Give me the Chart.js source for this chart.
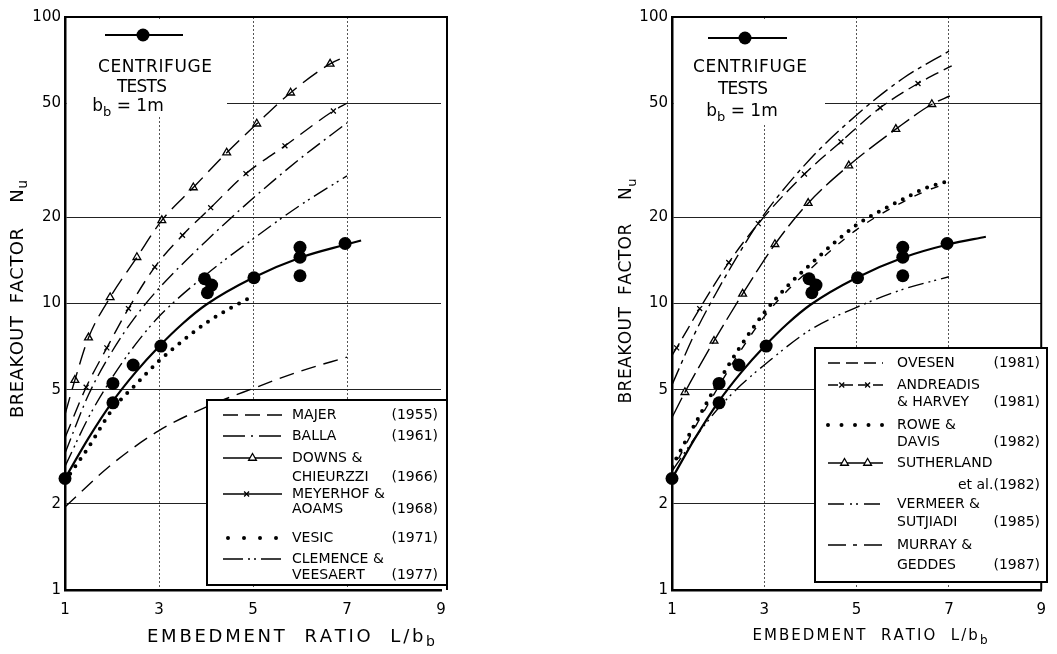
<!DOCTYPE html>
<html>
<head>
<meta charset="utf-8">
<script src="https://cdn.jsdelivr.net/npm/chart.js@4.4.0/dist/chart.umd.min.js"></script>
<style>
  html, body { margin: 0; padding: 0; background: #fff; }
  #wrap { position: relative; width: 1057px; height: 654px; }
  .panel { position: absolute; top: 0; height: 654px; }
  #left { left: 0; width: 528px; }
  #right { left: 528px; width: 529px; }
</style>
</head>
<body>
<div id="wrap">
  <div class="panel" id="left"><canvas id="leftChart" width="528" height="654"></canvas></div>
  <div class="panel" id="right"><canvas id="rightChart" width="529" height="654"></canvas></div>
</div>
<script>
// axes
const xTicks = [1, 3, 5, 7, 9];
const yTicks = [1, 2, 5, 10, 20, 50, 100];

// centrifuge tests, bb = 1m (same on both panels)
const testX = [1.0, 2.02, 2.02, 2.45, 3.04, 3.97, 4.12, 4.03, 5.02, 6.0, 6.0, 6.0, 6.96];
const testY = [2.45, 4.5, 5.26, 6.1, 7.1, 12.2, 11.6, 10.9, 12.3, 15.7, 14.5, 12.5, 16.2];
const fitX = [1, 1.5, 2, 2.5, 3, 3.5, 4, 5, 6, 7, 7.3];
const fitY = [2.45, 3.39, 4.52, 5.75, 7.08, 8.5, 9.9, 12.3, 14.45, 16.1, 16.6];
const fitRightX = [1, 1.5, 2, 2.5, 3, 3.5, 4, 5, 6, 7, 7.8];
const fitRightY = [2.45, 3.39, 4.52, 5.75, 7.08, 8.5, 9.9, 12.3, 14.45, 16.1, 17.1];

// left panel
const majerX = [1, 2, 3, 4, 5, 6, 7];
const majerY = [1.95, 2.75, 3.6, 4.35, 5.05, 5.8, 6.5];
const ballaX = [1, 1.5, 2, 2.5, 3, 4, 5, 6, 7];
const ballaY = [3.0, 4.8, 6.8, 9.0, 11.3, 16.5, 23.3, 32, 42.7];
const downsX = [1, 1.21, 1.5, 1.96, 2.53, 3.06, 3.73, 4.44, 5.08, 5.8, 6.64, 7.0];
const downsY = [4.1, 5.4, 7.6, 10.5, 14.5, 19.5, 25.4, 33.6, 42.4, 54.4, 68.6, 73];
const downsMarkX = [1.21, 1.5, 1.96, 2.53, 3.06, 3.73, 4.44, 5.08, 5.8, 6.64];
const downsMarkY = [5.4, 7.6, 10.5, 14.5, 19.5, 25.4, 33.6, 42.4, 54.4, 68.6];
const meyerhofX = [1, 1.45, 1.89, 2.35, 2.91, 3.5, 4.1, 4.85, 5.68, 6.71, 7.0];
const meyerhofY = [3.4, 5.1, 7.0, 9.6, 13.4, 17.3, 21.6, 28.4, 35.5, 47, 50];
const meyerhofMarkX = [1.45, 1.89, 2.35, 2.91, 3.5, 4.1, 4.85, 5.68, 6.71];
const meyerhofMarkY = [5.1, 7.0, 9.6, 13.4, 17.3, 21.6, 28.4, 35.5, 47];
const vesicX = [1, 1.5, 2, 2.5, 3, 3.5, 4, 4.5, 5];
const vesicY = [2.4, 3.15, 4.25, 5.2, 6.3, 7.4, 8.55, 9.6, 10.6];
const clemenceX = [1, 1.5, 2, 2.5, 3, 4, 5, 6, 7];
const clemenceY = [2.7, 4.0, 5.5, 7.2, 9.0, 12.6, 16.8, 22, 27.9];

// right panel
const ovesenX = [1, 1.5, 2, 2.5, 3, 3.5, 4, 4.5, 5, 5.5, 6, 6.5, 7];
const ovesenY = [2.6, 3.7, 5.1, 6.9, 9.0, 11.1, 13.2, 15.6, 18.1, 20.4, 22.6, 24.7, 26.4];
const andreadisX = [1, 1.1, 1.6, 2.23, 2.87, 3.87, 4.66, 5.51, 6.33, 7.06];
const andreadisY = [6.6, 7.0, 9.6, 13.9, 19.0, 28.3, 36.7, 48.2, 58.6, 67.5];
const andreadisMarkX = [1.1, 1.6, 2.23, 2.87, 3.87, 4.66, 5.51, 6.33];
const andreadisMarkY = [7.0, 9.6, 13.9, 19.0, 28.3, 36.7, 48.2, 58.6];
const roweX = [1, 1.5, 2, 2.5, 3, 3.5, 4, 4.5, 5, 5.5, 6, 6.5, 7];
const roweY = [2.7, 3.8, 5.3, 7.15, 9.3, 11.5, 13.7, 16.2, 18.8, 21.0, 23.1, 25.3, 26.8];
const sutherlandX = [1, 1.28, 1.91, 2.53, 3.23, 3.95, 4.83, 5.85, 6.63, 7.02];
const sutherlandY = [4.0, 4.9, 7.4, 10.8, 16.1, 22.4, 30.3, 40.6, 49.6, 53];
const sutherlandMarkX = [1.28, 1.91, 2.53, 3.23, 3.95, 4.83, 5.85, 6.63];
const sutherlandMarkY = [4.9, 7.4, 10.8, 16.1, 22.4, 30.3, 40.6, 49.6];
const vermeerX = [1, 1.5, 2, 2.5, 3, 4, 5, 6, 7];
const vermeerY = [2.6, 3.4, 4.3, 5.2, 6.1, 8.1, 9.7, 11.2, 12.4];
const murrayX = [1, 1.5, 2, 2.5, 3, 4, 5, 6, 7];
const murrayY = [5.2, 7.9, 11.2, 15.4, 20.5, 32, 45.5, 61, 76];

const FONT = '"DejaVu Sans", sans-serif';
Chart.defaults.font.family = FONT;

const pts = (xs, ys) => xs.map((x, i) => ({ x, y: ys[i] }));

function curve(label, xs, ys, style) {
  return Object.assign({
    label, data: pts(xs, ys), borderColor: '#000', borderWidth: 1.4,
    pointRadius: 0, fill: false, cubicInterpolationMode: 'monotone'
  }, style);
}

function marks(label, xs, ys, pointStyle, radius) {
  return {
    label, data: pts(xs, ys), showLine: false, pointStyle, pointRadius: radius,
    pointBorderColor: '#000', pointBackgroundColor: '#fff', pointBorderWidth: 1.3,
    borderColor: '#000', backgroundColor: '#fff'
  };
}

function testDots() {
  return {
    label: 'CENTRIFUGE TESTS', data: pts(testX, testY), showLine: false,
    pointStyle: 'circle', pointRadius: 6.5, pointBackgroundColor: '#000',
    pointBorderColor: '#000', pointBorderWidth: 0, clip: false
  };
}

// text with optional subscripts, optionally stretched to a width
function drawText(ctx, segs, x, y, o) {
  const size = o.size;
  const fontFor = sub => (sub ? Math.round(size * 0.78) : size) + 'px ' + FONT;
  const chars = [];
  segs.forEach(([t, sub]) => { for (const ch of t) chars.push([ch, sub]); });
  let natural = 0;
  chars.forEach(([ch, sub]) => { ctx.font = fontFor(sub); natural += ctx.measureText(ch).width; });
  const extra = o.width ? (o.width - natural) / Math.max(chars.length - 1, 1) : 0;
  const total = natural + extra * (chars.length - 1);
  ctx.save();
  ctx.translate(x, y);
  ctx.rotate(o.angle || 0);
  ctx.fillStyle = '#000';
  ctx.textBaseline = 'middle';
  ctx.textAlign = 'left';
  let cx = o.align === 'center' ? -total / 2 : o.align === 'right' ? -total : 0;
  chars.forEach(([ch, sub]) => {
    ctx.font = fontFor(sub);
    ctx.fillText(ch, cx, sub ? size * 0.32 : 0);
    cx += ctx.measureText(ch).width + extra;
  });
  ctx.restore();
}

function drawMark(ctx, style, x, y) {
  ctx.save();
  ctx.fillStyle = '#fff';
  ctx.strokeStyle = '#000';
  ctx.lineWidth = 1.3;
  Chart.helpers.drawPoint(ctx, { pointStyle: style, radius: style === 'triangle' ? 4.5 : 3.5, borderWidth: 1.3, rotation: 0 }, x, y);
  ctx.restore();
}

function drawSample(ctx, s, x1, x2, y) {
  ctx.save();
  ctx.strokeStyle = '#000';
  ctx.lineWidth = s.width || 1.4;
  ctx.setLineDash(s.dash || []);
  ctx.lineCap = s.cap || 'butt';
  ctx.beginPath();
  ctx.moveTo(x1 + (s.inset || 0), y);
  ctx.lineTo(x2, y);
  ctx.stroke();
  ctx.restore();
  (s.marks || []).forEach(f => drawMark(ctx, s.mark, x1 + f * (x2 - x1), y));
}

function panelPlugin(p) {
  return {
    id: 'panel' + p.name,
    beforeDatasetsDraw(chart) {
      const ctx = chart.ctx;
      ctx.save();
      ctx.fillStyle = '#fff';
      ctx.fillRect(...p.noteBox);
      ctx.restore();
    },
    afterDatasetsDraw(chart) {
      const ctx = chart.ctx;
      const a = chart.chartArea;
      // top and right frame
      ctx.save();
      ctx.strokeStyle = '#000';
      ctx.lineWidth = 2;
      ctx.beginPath();
      ctx.moveTo(a.left - 1, a.top);
      ctx.lineTo(a.right + p.frameExt, a.top);
      ctx.lineTo(a.right + p.frameExt, a.bottom);
      ctx.stroke();
      ctx.restore();

      // legend box
      const L = p.legend;
      ctx.save();
      ctx.fillStyle = '#fff';
      ctx.fillRect(L.box[0], L.box[1], L.box[2], L.box[3]);
      ctx.strokeStyle = '#000';
      ctx.lineWidth = 2;
      ctx.strokeRect(L.box[0], L.box[1], L.box[2], L.box[3]);
      ctx.restore();
      L.items.forEach(it => {
        drawSample(ctx, it.sample, L.sampleX[0], L.sampleX[1], it.y[0]);
        it.rows.forEach((r, i) => { if (r) drawText(ctx, [[r]], L.textX, it.y[i], { size: 14 }); });
        drawText(ctx, [[it.year]], L.yearX, it.y[it.yearRow], { size: 14, align: 'right' });
      });

      // centrifuge note
      const n = p.note;
      ctx.save();
      ctx.strokeStyle = '#000';
      ctx.lineWidth = 2;
      ctx.beginPath();
      ctx.moveTo(n.line[0], n.line[2]);
      ctx.lineTo(n.line[1], n.line[2]);
      ctx.stroke();
      ctx.fillStyle = '#000';
      ctx.beginPath();
      ctx.arc(n.dot, n.line[2], 6.5, 0, Math.PI * 2);
      ctx.fill();
      ctx.restore();
      drawText(ctx, [['CENTRIFUGE']], n.c1[0], n.c1[1], { size: 17, width: 114, align: 'center' });
      drawText(ctx, [['TESTS']], n.c2[0], n.c2[1], { size: 17, width: 50, align: 'center' });
      drawText(ctx, [['b'], ['b', true], [' = 1m']], n.c3[0], n.c3[1], { size: 17, align: 'center' });

      // axis titles
      const t = p.titles;
      drawText(ctx, [['EMBEDMENT  RATIO  L/b'], ['b', true]], t.x[0], t.x[1], { size: t.x[2], width: t.x[3], align: 'center' });
      drawText(ctx, [['BREAKOUT  FACTOR    N'], ['u', true]], t.y[0], t.y[1], { size: t.y[2], width: t.y[3], align: 'center', angle: -Math.PI / 2 });
    }
  };
}

function makeChart(id, datasets, p) {
  const tickFont = { family: FONT, size: 15 };
  return new Chart(document.getElementById(id), {
    type: 'line',
    data: { datasets },
    options: {
      responsive: false,
      animation: false,
      layout: { padding: { top: 17, right: p.padRight, bottom: 0, left: 0 } },
      plugins: { legend: { display: false }, tooltip: { enabled: false } },
      scales: {
        x: {
          type: 'linear', min: 1, max: 9,
          afterBuildTicks: s => { s.ticks = xTicks.map(v => ({ value: v })); },
          afterFit: s => { s.height = 64; },
          ticks: { font: tickFont, color: '#000', padding: 11, maxRotation: 0, callback: v => String(v) },
          grid: {
            drawTicks: false, lineWidth: 1,
            color: c => (c.tick && (c.tick.value === 1 || c.tick.value === 9)) ? 'rgba(0,0,0,0)' : '#555'
          },
          border: { display: true, color: '#000', width: 2.5, dash: [2, 2] }
        },
        y: {
          type: 'logarithmic', min: 1, max: 100,
          afterBuildTicks: s => { s.ticks = yTicks.map(v => ({ value: v })); },
          afterFit: s => { s.width = p.yWidth; },
          ticks: { font: tickFont, color: '#000', padding: 4, callback: v => String(v) },
          grid: {
            drawTicks: false, lineWidth: 1,
            color: c => (c.tick && (c.tick.value === 1 || c.tick.value === 100)) ? 'rgba(0,0,0,0)' : '#222'
          },
          border: { display: true, color: '#000', width: 2.5 }
        }
      }
    },
    plugins: [panelPlugin(p)]
  });
}

// ---- left panel ----
makeChart('leftChart', [
  curve('MAJER', majerX, majerY, { borderDash: [15, 8] }),
  curve('BALLA', ballaX, ballaY, { borderDash: [16, 5, 2, 5] }),
  curve('DOWNS & CHIEURZZI', downsX, downsY, { borderDash: [18, 8] }),
  curve('MEYERHOF & AOAMS', meyerhofX, meyerhofY, { borderDash: [15, 8] }),
  curve('VESIC', vesicX, vesicY, { borderDash: [0, 9], borderCapStyle: 'round', borderWidth: 4 }),
  curve('CLEMENCE & VEESAERT', clemenceX, clemenceY, { borderDash: [16, 5, 2, 4, 2, 5] }),
  curve('CENTRIFUGE FIT', fitX, fitY, { borderWidth: 2.2 }),
  marks('DOWNS marks', downsMarkX, downsMarkY, 'triangle', 4.5),
  marks('MEYERHOF marks', meyerhofMarkX, meyerhofMarkY, 'crossRot', 3.5),
  testDots()
], {
  name: 'L', padRight: 87, yWidth: 65, frameExt: 6,
  noteBox: [67, 19, 160, 98],
  note: { line: [105, 183, 35], dot: 143, c1: [155, 68], c2: [142, 88], c3: [128, 107] },
  titles: { x: [291, 637, 18, 288], y: [18, 299, 18, 238] },
  legend: {
    box: [207, 400, 240, 185], sampleX: [223, 282], textX: 292, yearX: 438,
    items: [
      { rows: ['MAJER'], y: [415], year: '(1955)', yearRow: 0, sample: { dash: [15, 7] } },
      { rows: ['BALLA'], y: [436], year: '(1961)', yearRow: 0, sample: { dash: [22, 6, 2, 6] } },
      { rows: ['DOWNS &', 'CHIEURZZI'], y: [458, 477], year: '(1966)', yearRow: 1, sample: { mark: 'triangle', marks: [0.5] } },
      { rows: ['MEYERHOF &', 'AOAMS'], y: [494, 509], year: '(1968)', yearRow: 1, sample: { mark: 'crossRot', marks: [0.4] } },
      { rows: ['VESIC'], y: [538], year: '(1971)', yearRow: 0, sample: { dash: [0, 16], cap: 'round', width: 4, inset: 5 } },
      { rows: ['CLEMENCE &', 'VEESAERT'], y: [559, 575], year: '(1977)', yearRow: 1, sample: { dash: [20, 5, 2, 4, 2, 5] } }
    ]
  }
});

// ---- right panel ----
makeChart('rightChart', [
  curve('OVESEN', ovesenX, ovesenY, { borderDash: [8, 10], borderDashOffset: 4 }),
  curve('ANDREADIS & HARVEY', andreadisX, andreadisY, { borderDash: [14, 6] }),
  curve('ROWE & DAVIS', roweX, roweY, { borderDash: [0, 9], borderCapStyle: 'round', borderWidth: 4 }),
  curve('SUTHERLAND et al.', sutherlandX, sutherlandY, { borderDash: [22, 6] }),
  curve('VERMEER & SUTJIADI', vermeerX, vermeerY, { borderDash: [16, 5, 2, 4, 2, 5] }),
  curve('MURRAY & GEDDES', murrayX, murrayY, { borderDash: [18, 5, 4, 5] }),
  curve('CENTRIFUGE FIT', fitRightX, fitRightY, { borderWidth: 2.2 }),
  marks('ANDREADIS marks', andreadisMarkX, andreadisMarkY, 'crossRot', 3.5),
  marks('SUTHERLAND marks', sutherlandMarkX, sutherlandMarkY, 'triangle', 4.5),
  testDots()
], {
  name: 'R', padRight: 10, yWidth: 144, frameExt: 0,
  noteBox: [146, 19, 151, 106],
  note: { line: [180, 259, 38], dot: 217, c1: [222, 68], c2: [215, 90], c3: [214, 112] },
  titles: { x: [342, 636, 15, 235], y: [99, 291, 17, 225] },
  legend: {
    box: [287, 348, 232, 234], sampleX: [300, 355], textX: 369, yearX: 512,
    items: [
      { rows: ['OVESEN'], y: [363], year: '(1981)', yearRow: 0, sample: { dash: [12, 6] } },
      { rows: ['ANDREADIS', '& HARVEY'], y: [385, 402], year: '(1981)', yearRow: 1, sample: { dash: [10, 5], mark: 'crossRot', marks: [0.25, 0.72] } },
      { rows: ['ROWE &', 'DAVIS'], y: [425, 442], year: '(1982)', yearRow: 1, sample: { dash: [0, 13.5], cap: 'round', width: 4 } },
      { rows: ['SUTHERLAND', ''], y: [463, 485], year: 'et al.(1982)', yearRow: 1, sample: { mark: 'triangle', marks: [0.3, 0.72] } },
      { rows: ['VERMEER &', 'SUTJIADI'], y: [504, 522], year: '(1985)', yearRow: 1, sample: { dash: [16, 6, 2, 4, 2, 6] } },
      { rows: ['MURRAY &', 'GEDDES'], y: [545, 565], year: '(1987)', yearRow: 1, sample: { dash: [18, 7, 4, 7] } }
    ]
  }
});
</script>
</body>
</html>
